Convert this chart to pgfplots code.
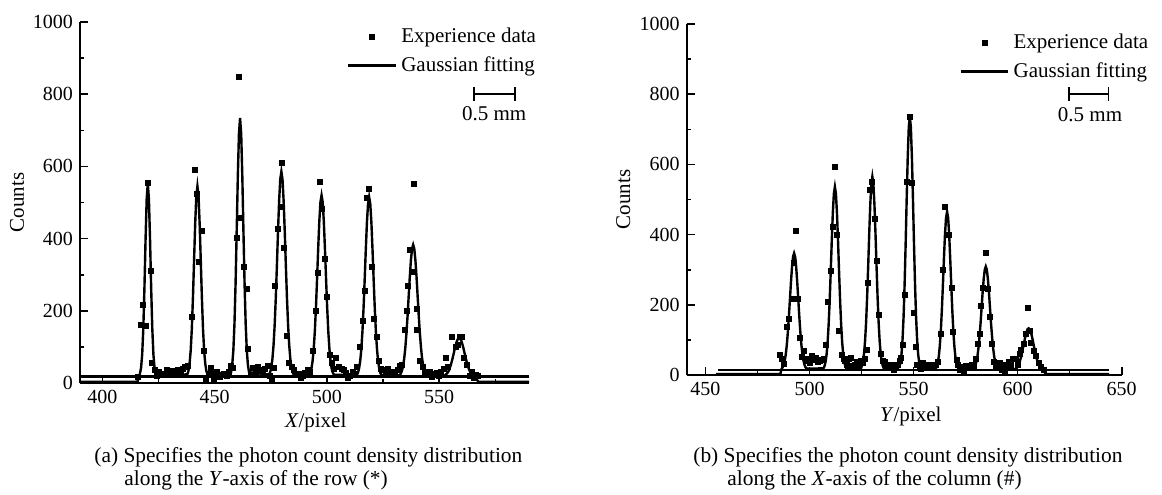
\documentclass[border=0pt]{standalone}
\usepackage{fontspec}
\setmainfont{Liberation Serif}
\usepackage{pgfplots}
\pgfplotsset{compat=1.18}

\pgfplotsset{
 mystyle/.style={
  scale only axis,
  axis x line*=bottom, axis y line*=left,
  ymin=0, ymax=1000,
  ytick={0,200,...,1000}, minor ytick={100,300,...,900},
  tick align=inside,
  major tick length=4pt, minor tick length=2.2pt,
  every tick/.style={black, line width=0.8pt},
  axis line style={line width=1pt},
  /pgf/number format/assume math mode=true,
  /pgf/number format/1000 sep={},
  tick label style={font=\fontsize{10}{12}\selectfont},
  label style={font=\fontsize{10.5}{12.6}\selectfont},
  legend style={draw=none, fill=none, font=\fontsize{10.5}{12.6}\selectfont, inner sep=0pt, row sep=1.5pt, anchor=north west},
  legend cell align=left,
  legend image code/.code={\draw[mark repeat=2,mark phase=2,##1] plot coordinates {(0cm,0cm) (0.42cm,0cm) (0.84cm,0cm)};},
  clip=false,
 },
 datastyle/.style={only marks, mark=square*, mark size=1.25pt, black},
 fitstyle/.style={no marks, black, line width=1.2pt},
}

\pgfplotstableread{
x y
415.9 18
417.1 160
418.1 217
419.2 157
420.3 554
421.4 311
422.2 55
423.3 37
424.3 20
425.3 30
426.4 22
427.4 25
428.5 35
429.5 22
430.6 28
431.6 33
432.7 25
433.7 35
434.8 30
435.8 38
436.9 45
437.9 48
439.9 182
441.1 591
442.0 525
443.0 335
444.1 420
445.1 88
446.3 12
447.2 25
448.1 41
449.5 12
450.3 28
451.1 32
452.2 18
453.2 22
454.3 25
455.3 20
456.4 30
457.2 48
458.2 41
459.7 401
460.9 849
461.6 457
463.1 323
464.2 260
465.0 94
466.1 22
467.1 42
468.2 30
469.3 46
470.4 35
471.5 32
472.5 40
473.5 48
474.4 20
475.3 5
476.3 42
476.8 270
478.0 427
479.4 489
480.1 611
480.9 374
482.0 130
483.1 55
484.2 46
485.2 35
486.3 22
487.3 25
488.3 15
489.3 20
490.3 28
491.4 35
492.4 30
493.9 88
495.1 201
496.1 305
496.8 558
497.6 482
499.3 345
500.1 238
501.3 78
502.3 55
503.1 40
504.0 69
505.2 45
506.6 40
507.5 35
508.4 28
509.4 14
510.4 20
511.4 30
512.3 25
513.2 46
514.7 100
515.9 173
516.9 256
518.0 512
518.8 538
519.9 323
521.0 177
522.1 129
523.1 60
524.2 40
525.2 35
526.2 28
527.3 38
528.3 30
529.3 32
530.4 28
531.4 35
532.3 48
533.2 51
534.7 148
535.5 200
535.9 268
537.0 370
538.1 309
538.9 551
539.9 205
540.2 148
541.4 60
542.6 46
543.6 32
544.6 23
545.7 30
546.7 18
547.8 25
548.8 28
549.9 20
550.9 30
551.9 38
552.9 69
553.8 45
555.8 129
557.3 101
558.4 105
559.3 127
560.0 127
561.1 69
562.2 51
563.7 20
564.6 30
565.6 15
566.5 22
567.4 20
}\dataA

\pgfplotstableread{
x y
390 3
415.6 3
416.7 26
417.2 42
417.7 79
418.2 151
418.7 263
419.2 397
419.7 509
420.2 554
420.7 509
421.2 397
421.7 263
422.2 151
422.7 79
423.2 42
423.7 26
424.2 20
437.8 24
438.3 33
438.8 53
439.3 89
439.8 149
440.3 235
440.8 338
441.3 440
441.8 517
442.3 545
442.8 517
443.3 440
443.8 338
444.3 235
444.8 149
445.3 89
445.8 53
446.3 33
446.8 24
457.3 30
457.8 50
458.3 90
458.8 163
459.3 276
459.8 421
460.3 573
460.8 690
461.3 734
461.8 690
462.3 573
462.8 421
463.3 276
463.8 163
464.3 90
464.8 50
465.3 30
474.2 23
474.7 30
475.2 43
475.7 66
476.2 104
476.7 159
477.2 234
477.7 324
478.2 420
478.7 505
479.2 564
479.7 586
480.2 564
480.7 505
481.2 420
481.7 324
482.2 234
482.7 159
483.2 104
483.7 66
484.2 43
484.7 30
485.2 23
492.1 23
492.6 29
493.1 40
493.6 61
494.1 94
494.6 143
495.1 209
495.6 289
496.1 373
496.6 448
497.1 501
497.6 520
498.1 501
498.6 448
499.1 373
499.6 289
500.1 209
500.6 143
501.1 94
501.6 61
502.1 40
502.6 29
503.1 23
513.3 22
513.8 28
514.3 40
514.8 60
515.3 93
515.8 142
516.3 207
516.8 286
517.3 369
517.8 444
518.3 496
518.8 515
519.3 496
519.8 444
520.3 369
520.8 286
521.3 207
521.8 142
522.3 93
522.8 60
523.3 40
523.8 28
524.3 22
532.4 22
532.9 26
533.4 34
533.9 47
534.4 67
534.9 97
535.4 137
535.9 185
536.4 240
536.9 294
537.4 340
537.9 372
538.4 383
538.9 372
539.4 340
539.9 294
540.4 240
540.9 185
541.4 137
541.9 97
542.4 67
542.9 47
543.4 34
543.9 26
544.4 22
552.4 21
552.9 23
553.4 26
553.9 30
554.4 36
554.9 45
555.4 55
555.9 67
556.4 80
556.9 94
557.4 106
557.9 116
558.4 123
558.9 125
559.4 123
559.9 116
560.4 106
560.9 94
561.4 80
561.9 67
562.4 55
562.9 45
563.4 36
563.9 30
564.4 26
564.9 23
565.4 21
567.5 3
590 3
}\fitA

\pgfplotstableread{
x y
485.8 57
486.6 45
487.7 33
489.0 138
490.1 161
491.4 216
492.5 318
493.4 410
494.6 216
495.2 105
496.2 52
497.5 68
498.5 40
499.4 47
500.3 35
501.2 55
502.1 42
503.0 48
504.0 38
505.0 40
505.9 42
506.8 45
507.8 87
508.9 207
510.1 297
511.4 423
512.2 593
513.4 399
514.1 127
515.4 58
516.3 45
517.2 40
518.1 28
519.0 45
519.9 48
520.8 25
521.7 30
522.6 38
523.5 32
524.5 40
525.5 35
526.5 45
527.4 71
528.2 263
529.0 527
530.1 551
531.4 446
532.2 326
533.3 171
534.4 60
535.1 40
536.0 38
536.9 30
537.7 20
538.6 25
539.5 28
540.5 15
541.4 22
542.3 30
543.2 40
544.1 50
545.0 85
545.8 228
546.6 551
548.2 734
549.0 546
550.0 176
550.9 81
551.8 30
552.8 20
553.7 16
554.6 35
555.5 25
556.4 25
557.3 28
558.2 22
559.1 28
560.0 20
560.9 30
561.8 38
562.9 117
563.9 299
565.2 480
565.9 399
567.2 399
568.2 247
569.0 123
570.6 43
571.5 30
572.4 14
573.3 22
574.2 8
575.1 25
576.0 22
576.9 20
577.8 30
578.9 25
579.9 47
581.0 88
581.8 117
582.5 197
583.5 247
584.8 347
585.8 244
586.8 166
587.6 90
588.6 38
589.5 25
590.4 20
591.3 35
592.2 15
593.1 30
594.0 10
594.9 28
595.8 38
596.7 30
597.7 45
599.1 47
600.0 30
601.0 60
601.8 71
602.9 90
603.9 117
605.0 190
605.8 125
606.6 92
607.7 69
609.0 55
610.2 35
611.4 22
612.6 14
}\dataB

\pgfplotstableread{
x y
455 3
486.0 3
486.6 18
487.1 22
487.6 29
488.1 41
488.6 59
489.1 86
489.6 122
490.1 167
490.6 216
491.1 265
491.6 308
492.1 337
492.6 347
493.1 337
493.6 308
494.1 265
494.6 216
495.1 167
495.6 122
496.1 86
496.6 59
497.1 41
497.6 29
498.1 22
498.6 18
506.7 19
507.2 25
507.7 37
508.2 58
508.7 93
509.2 144
509.7 213
510.2 295
510.7 383
511.2 461
511.7 516
512.2 536
512.7 516
513.2 461
513.7 383
514.2 295
514.7 213
515.2 144
515.7 93
516.2 58
516.7 37
517.2 25
517.7 19
524.7 19
525.2 26
525.7 38
526.2 61
526.7 97
527.2 151
527.7 224
528.2 311
528.7 404
529.2 486
529.7 544
530.2 565
530.7 544
531.2 486
531.7 404
532.2 311
532.7 224
533.2 151
533.7 97
534.2 61
534.7 38
535.2 26
535.7 19
543.2 23
543.7 36
544.2 59
544.7 101
545.2 166
545.7 259
546.2 375
546.7 504
547.2 621
547.7 706
548.2 736
548.7 706
549.2 621
549.7 504
550.2 375
550.7 259
551.2 166
551.7 101
552.2 59
552.7 36
553.2 23
560.6 18
561.1 23
561.6 34
562.1 52
562.6 82
563.1 126
563.6 186
564.1 257
564.6 333
565.1 401
565.6 448
566.1 465
566.6 448
567.1 401
567.6 333
568.1 257
568.6 186
569.1 126
569.6 82
570.1 52
570.6 34
571.1 23
571.6 18
578.7 17
579.2 21
579.7 27
580.2 38
580.7 54
581.2 78
581.7 110
582.2 149
582.7 193
583.2 237
583.7 274
584.2 300
584.7 309
585.2 300
585.7 274
586.2 237
586.7 193
587.2 149
587.7 110
588.2 78
588.7 54
589.2 38
589.7 27
590.2 21
590.7 17
598.8 17
599.3 19
599.8 23
600.3 28
600.8 34
601.3 44
601.8 55
602.3 69
602.8 83
603.3 98
603.8 112
604.3 123
604.8 131
605.3 133
605.8 131
606.3 123
606.8 112
607.3 98
607.8 83
608.3 69
608.8 55
609.3 44
609.8 34
610.3 28
610.8 23
611.3 19
611.8 17
613.5 3
644 3
}\fitB

\begin{document}
\begin{tikzpicture}
\useasboundingbox (0,0) rectangle (581pt,-247pt);
% ---------- left panel ----------
\begin{axis}[mystyle, at={(40pt,-191.5pt)}, anchor=south west,
  width=224.5pt, height=180.5pt,
  xmin=390, xmax=590,
  xtick={400,450,500,550}, minor xtick={425,475,525,575},
  xlabel={\textit{X}/pixel}, ylabel={Counts},
  xlabel style={at={(axis description cs:0.525,-0.108)}, anchor=center},
  ylabel style={at={(axis description cs:-0.140,0.5)}, anchor=center},
  legend style={at={(rel axis cs:0.594,0.995)}}]
\addplot[datastyle] table[x=x,y=y] {\dataA};
\addlegendentry{Experience data}
\addplot[fitstyle] table[x=x,y=y] {\fitA};
\addlegendentry{Gaussian fitting}
\addplot[fitstyle, forget plot] coordinates {(390,18) (590,18)};
\draw[line width=0.8pt, |-|] (axis cs:565.2,800) -- (axis cs:584.1,800);
\node[font=\fontsize{10.5}{12.6}\selectfont] at (axis cs:574.5,745) {0.5 mm};
\end{axis}
% ---------- right panel ----------
\begin{axis}[mystyle, at={(343.35pt,-187.5pt)}, anchor=south west,
  width=217.5pt, height=175.5pt,
  xmin=441, xmax=650,
  xtick={450,500,550,600,650}, minor xtick={475,525,575,625},
  xlabel={\textit{Y}/pixel}, ylabel={Counts},
  xlabel style={at={(axis description cs:0.515,-0.119)}, anchor=center},
  ylabel style={at={(axis description cs:-0.146,0.5)}, anchor=center},
  legend style={at={(rel axis cs:0.626,0.984)}}]
\addplot[datastyle] table[x=x,y=y] {\dataB};
\addlegendentry{Experience data}
\addplot[fitstyle] table[x=x,y=y] {\fitB};
\addlegendentry{Gaussian fitting}
\addplot[fitstyle, forget plot] coordinates {(456,14) (644,14)};
\draw[line width=0.8pt, |-|] (axis cs:624.3,800) -- (axis cs:644.1,800);
\node[font=\fontsize{10.5}{12.6}\selectfont] at (axis cs:634.8,741) {0.5 mm};
\end{axis}
% ---------- captions ----------
\begin{scope}[every node/.style={anchor=base west, inner sep=0pt, font=\fontsize{10.7}{12.8}\selectfont}]
\node at (47pt,-231pt) {(a) Specifies the photon count density distribution};
\node at (62pt,-242.5pt) {along the \textit{Y}-axis of the row (*)};
\node at (346.5pt,-231pt) {(b) Specifies the photon count density distribution};
\node at (363.5pt,-242.5pt) {along the \textit{X}-axis of the column (\#)};
\end{scope}
\end{tikzpicture}
\end{document}
